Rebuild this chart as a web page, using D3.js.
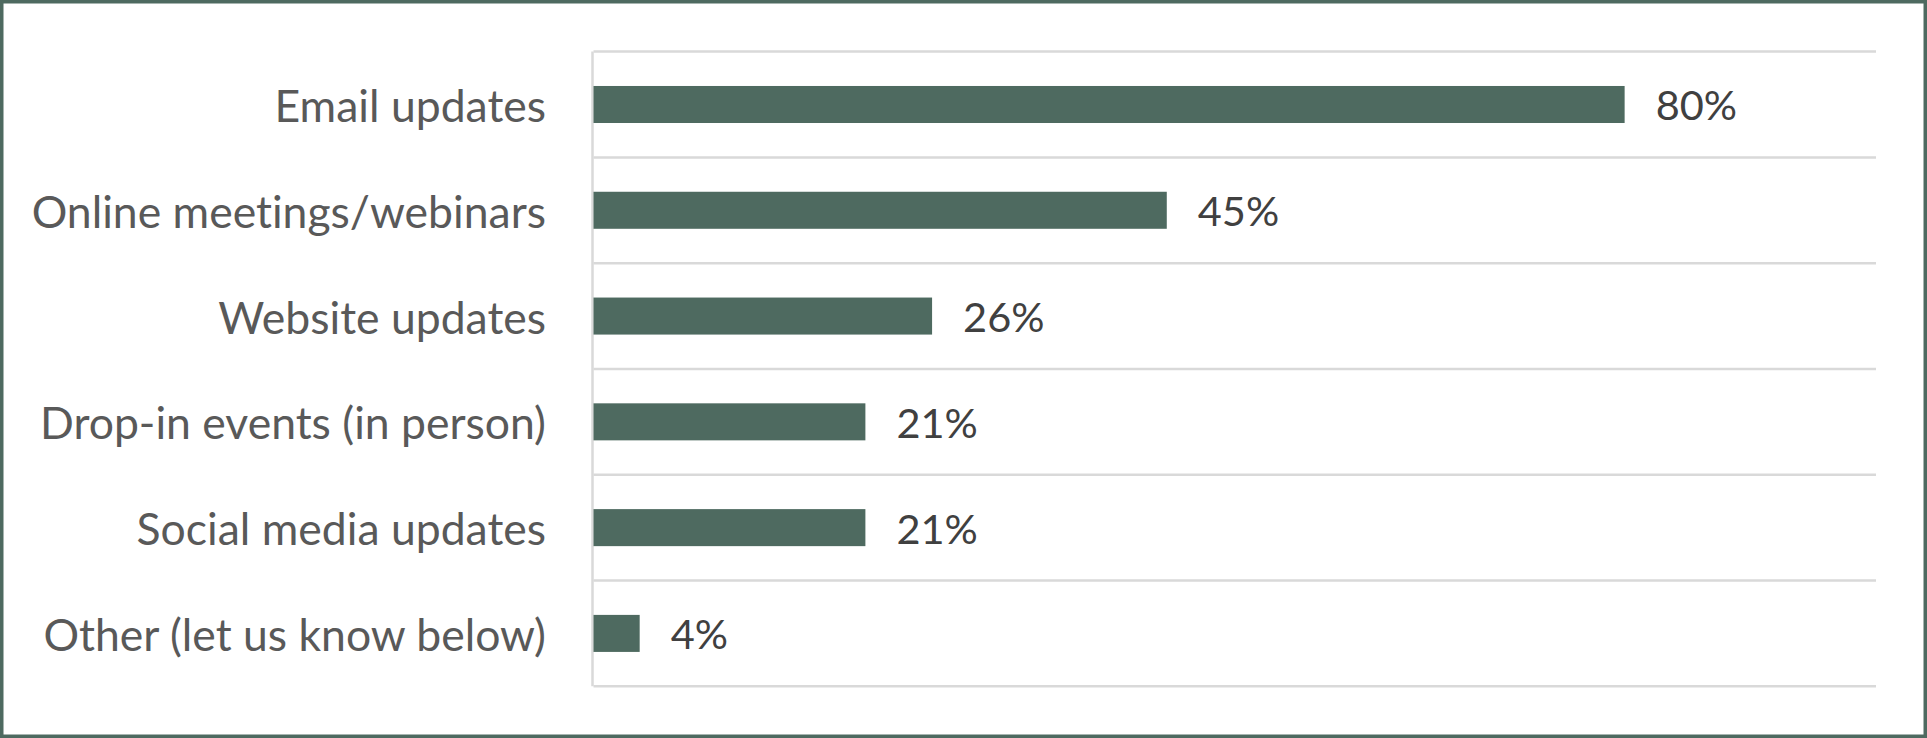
<!DOCTYPE html>
<html>
<head>
<meta charset="utf-8">
<script src="https://cdn.jsdelivr.net/npm/d3@7/dist/d3.min.js"></script>
<style>
  html, body { margin: 0; padding: 0; background: #ffffff; }
  svg { display: block; }
  text { font-variant-ligatures: none; font-feature-settings: "liga" 0; }
</style>
</head>
<body>
<script>
const categories = [
  "Email updates",
  "Online meetings/webinars",
  "Website updates",
  "Drop-in events (in person)",
  "Social media updates",
  "Other (let us know below)"
];
const values = [80.4, 44.7, 26.4, 21.2, 21.2, 3.6];
const xDomain = [0, 100];

const W = 1927, H = 738;
const plot = { left: 593.5, right: 1876, top: 51.6, bottom: 686.3 };
const barColor = "#4E6A60";

const svg = d3.select("body").append("svg").attr("width", W).attr("height", H);

// frame
svg.append("rect")
  .attr("x", 1.75).attr("y", 1.75)
  .attr("width", W - 3.5).attr("height", H - 3.5)
  .attr("fill", "#ffffff")
  .attr("stroke", barColor).attr("stroke-width", 3.5);

const x = d3.scaleLinear().domain(xDomain).range([plot.left, plot.right]);
const yGrid = d3.scaleBand().domain(categories).range([plot.top, plot.bottom]).padding(0);
const y = d3.scaleBand().domain(categories).range([plot.top, plot.bottom])
  .paddingInner(0.65).paddingOuter(0.325);

// horizontal gridlines at category boundaries
const gridYs = categories.map(c => yGrid(c)).concat([plot.bottom]);
svg.append("g").selectAll("line").data(gridYs).join("line")
  .attr("x1", x(xDomain[0])).attr("x2", x(xDomain[1]))
  .attr("y1", d => d).attr("y2", d => d)
  .attr("stroke", "#D9D9D9").attr("stroke-width", 2.5);

// vertical category axis line
svg.append("line")
  .attr("x1", x(0) - 1).attr("x2", x(0) - 1)
  .attr("y1", plot.top).attr("y2", plot.bottom)
  .attr("stroke", "#D9D9D9").attr("stroke-width", 2.5);

// bars
svg.append("g").selectAll("rect").data(categories).join("rect")
  .attr("x", x(0))
  .attr("y", d => y(d))
  .attr("width", (d, i) => x(values[i]) - x(0))
  .attr("height", y.bandwidth())
  .attr("fill", barColor);

// category labels
svg.append("g").selectAll("text").data(categories).join("text")
  .attr("x", 546)
  .attr("y", d => yGrid(d) + yGrid.bandwidth() / 2)
  .attr("text-anchor", "end")
  .attr("dominant-baseline", "central")
  .attr("font-family", "Lato, 'Open Sans', sans-serif")
  .attr("font-size", 44.5)
  .attr("fill", "#595959")
  .text(d => d);

// value labels
const fmt = v => d3.format(".0f")(v) + "%";
svg.append("g").selectAll("text").data(categories).join("text")
  .attr("x", (d, i) => x(values[i]) + 31)
  .attr("y", d => yGrid(d) + yGrid.bandwidth() / 2)
  .attr("dominant-baseline", "central")
  .attr("font-family", "Lato, 'Open Sans', sans-serif")
  .attr("font-size", 41.5)
  .attr("fill", "#404040")
  .text((d, i) => fmt(values[i]));
</script>
</body>
</html>
